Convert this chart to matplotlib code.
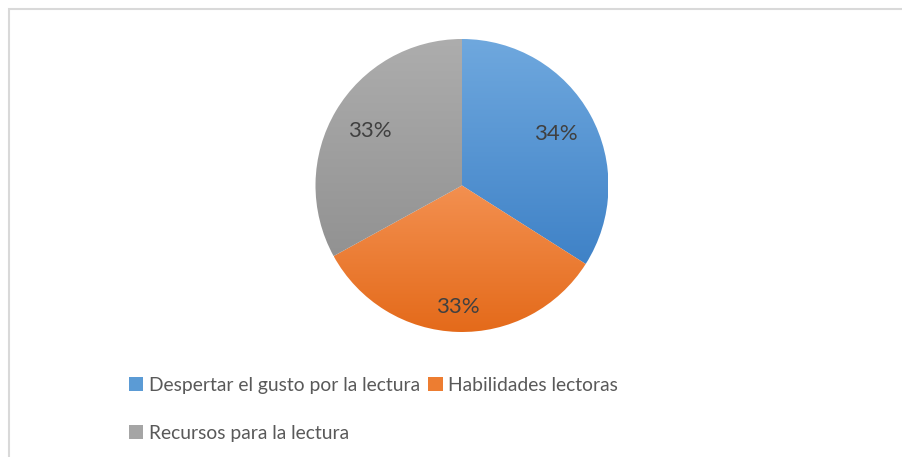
import numpy as np
import matplotlib.pyplot as plt
from matplotlib.patches import Patch, Rectangle
from matplotlib.colors import LinearSegmentedColormap

plt.rcParams['font.family'] = ['Lato', 'DejaVu Sans']

categorias = ['Despertar el gusto por la lectura', 'Habilidades lectoras', 'Recursos para la lectura']
valores = [34, 33, 33]
colores_top = ['#6fa8de', '#f39050', '#adadad']
colores_bot = ['#3f82c7', '#e46a1a', '#929292']
colores = ['#5b9bd5', '#ed7d31', '#a5a5a5']

fig = plt.figure(figsize=(9.03, 4.57), dpi=100)

# marco gris claro (solo arriba e izquierda visibles)
fig.patches.append(Rectangle((8.5 / 903, -0.1), 1.2, 1 - 9.0 / 457 + 0.1,
                             transform=fig.transFigure, fill=False,
                             edgecolor='#d9d9d9', linewidth=1.5))

ax = fig.add_axes([(462 - 146.5) / 903, (457 - 185.5 - 146.5) / 457, 293 / 903, 293 / 457])
wedges, textos, autotextos = ax.pie(valores, colors=colores, startangle=90, counterclock=False,
                                    autopct='%1.0f%%', pctdistance=0.73, radius=1,
                                    wedgeprops=dict(linewidth=0),
                                    textprops=dict(fontsize=16, color='#404040'))
ax.set_xlim(-1, 1)
ax.set_ylim(-1, 1)
ax.set_aspect('equal')
ax.axis('off')

# la etiqueta naranja queda más afuera
x, y = autotextos[1].get_position()
autotextos[1].set_position((x * 0.83 / 0.73, y * 0.83 / 0.73))

# degradado vertical en cada porción
for w, c1, c2 in zip(wedges, colores_top, colores_bot):
    verts = w.get_path().vertices
    verts = w.get_patch_transform().transform(verts)
    y0, y1 = verts[:, 1].min(), verts[:, 1].max()
    x0, x1 = verts[:, 0].min(), verts[:, 0].max()
    cmap = LinearSegmentedColormap.from_list('g', [c2, c1])
    grad = np.linspace(0, 1, 256).reshape(-1, 1)
    im = ax.imshow(grad, cmap=cmap, extent=[x0, x1, y0, y1], origin='lower',
                   aspect='auto', zorder=w.get_zorder())
    im.set_clip_path(w)
    w.set_facecolor('none')
for t in autotextos:
    t.set_zorder(5)

handles = [Patch(facecolor=colores[0]), Patch(facecolor=colores[2]), Patch(facecolor=colores[1])]
labels = [categorias[0], categorias[2], categorias[1]]
fig.legend(handles, labels, ncol=2, loc='upper left', bbox_to_anchor=(129 / 903, 1 - 377 / 457),
           frameon=False, fontsize=13.9, labelcolor='#595959', handlelength=0.75,
           handleheight=0.75, handletextpad=0.3, columnspacing=0.4, labelspacing=1.6,
           borderpad=0, borderaxespad=0)

fig.savefig('out.png', dpi=100)
